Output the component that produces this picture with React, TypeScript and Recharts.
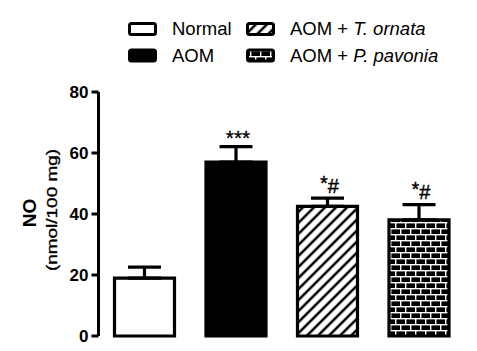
import { BarChart, Bar, XAxis, YAxis, ErrorBar, Cell, LabelList, Legend } from 'recharts';

const groups = ['Normal', 'AOM', 'AOM + T. ornata', 'AOM + P. pavonia'];
const noMean = [19.0, 57.0, 42.5, 38.1];
const noSem = [3.6, 5.1, 2.7, 5.0];
const marks = ['', '***', '*#', '*#'];
const yTicks = [0, 20, 40, 60, 80];

const fills = ['#fff', '#000', 'url(#hatch)', 'url(#brick)'];
const FONT = '"Liberation Sans", Arial, sans-serif';

const data = groups.map((g, i) => ({
  group: g,
  no: noMean[i],
  err: [0, noSem[i]],
  sig: marks[i],
}));

function Patterns() {
  return (
    <svg width={0} height={0} style={{ position: 'absolute' }}>
      <defs>
        <pattern id="hatch" patternUnits="userSpaceOnUse" width={7.8} height={7.8} patternTransform="rotate(45)">
          <rect width={7.8} height={7.8} fill="#fff" />
          <line x1={2} y1={0} x2={2} y2={7.8} stroke="#000" strokeWidth={2.5} />
        </pattern>
        <pattern id="brick" patternUnits="userSpaceOnUse" width={10} height={12}>
          <rect width={10} height={12} fill="#000" />
          <line x1={0} y1={0.7} x2={10} y2={0.7} stroke="#fff" strokeWidth={1.4} />
          <line x1={0} y1={6.7} x2={10} y2={6.7} stroke="#fff" strokeWidth={1.4} />
          <line x1={0.7} y1={0} x2={0.7} y2={6} stroke="#fff" strokeWidth={1.4} />
          <line x1={5.7} y1={6} x2={5.7} y2={12} stroke="#fff" strokeWidth={1.4} />
        </pattern>
      </defs>
    </svg>
  );
}

// legend laid out like the Prism one: 2 columns x 2 rows
const legendItems = [
  { name: 'Normal', col: 0, row: 0, fill: '#fff' },
  { name: 'AOM', col: 0, row: 1, fill: '#000' },
  { name: 'AOM + ', italic: 'T. ornata', col: 1, row: 0, fill: 'url(#hatch)' },
  { name: 'AOM + ', italic: 'P. pavonia', col: 1, row: 1, fill: 'url(#brick)' },
];

function renderLegend() {
  return (
    <svg width={340} height={52} style={{ display: 'block' }}>
      {legendItems.map((it) => {
        const sx = it.col === 0 ? 9.5 : 127.5;
        const sy = it.row === 0 ? 9.5 : 36;
        return (
          <g key={it.name + (it.italic || '')}>
            <rect x={sx} y={sy} width={26} height={11} rx={2} fill={it.fill} stroke="#000" strokeWidth={3} />
            <text x={sx + 42.5} y={sy + 11.5} fontFamily={FONT} fontSize={18.5} fill="#000">
              {it.name}
              {it.italic && <tspan fontStyle="italic">{it.italic}</tspan>}
            </text>
          </g>
        );
      })}
    </svg>
  );
}

function YLabel(props: any) {
  const vb = props.viewBox || { y: 92, height: 244 };
  const cy = vb.y + vb.height / 2;
  return (
    <g>
      <text x={36} y={cy - 1} transform={`rotate(-90, 36, ${cy - 1})`} textAnchor="middle" fontFamily={FONT} fontSize={19} fontWeight="bold" fill="#000">
        NO
      </text>
      <text x={57} y={cy - 4} transform={`rotate(-90, 57, ${cy - 4})`} textAnchor="middle" fontFamily={FONT} fontSize={15} fill="#000" stroke="#000" strokeWidth={0.35} textLength={122} lengthAdjust="spacingAndGlyphs">
        (nmol/100 mg)
      </text>
    </g>
  );
}

function renderSig(props: any) {
  const { x, y, width, height, index, value } = props;
  if (!value) return null;
  const mean = noMean[index];
  const capY = y - noSem[index] * (height / mean);
  const cx = x + width / 2 + 2;
  if (value === '***') {
    return (
      <text x={cx} y={capY - 1.5} textAnchor="middle" fontFamily={FONT} fontSize={21} fill="#000" stroke="#000" strokeWidth={0.3}>
        ***
      </text>
    );
  }
  return (
    <text x={cx} y={capY - 5.5} textAnchor="middle" fontFamily={FONT} fontSize={20} fill="#000" stroke="#000" strokeWidth={0.4}>
      <tspan dy={-3}>*</tspan>
      <tspan dy={3}>#</tspan>
    </text>
  );
}

export default function App() {
  return (
    <div style={{ position: 'absolute', left: 0, top: 0, width: 477, height: 351, background: '#fff' }}>
      <Patterns />
      <BarChart width={477} height={351} data={data} margin={{ top: 92, right: 12.5, bottom: 15, left: 38.5 }} barCategoryGap={0}>
        <Legend
          layout="horizontal"
          verticalAlign="middle"
          align="center"
          content={renderLegend}
          wrapperStyle={{ left: 120, top: 14, width: 340, height: 52 }}
        />
        <XAxis dataKey="group" tick={false} tickLine={false} height={0} axisLine={{ stroke: '#000', strokeWidth: 3 }} />
        <YAxis
          width={60}
          domain={[0, 80]}
          ticks={yTicks}
          interval={0}
          tickSize={7}
          tickMargin={3}
          axisLine={{ stroke: '#000', strokeWidth: 3 }}
          tickLine={{ stroke: '#000', strokeWidth: 3 }}
          tick={{ fill: '#000', fontSize: 17, fontWeight: 'bold', fontFamily: FONT }}
          label={<YLabel />}
        />
        <Bar dataKey="no" barSize={60} stroke="#000" strokeWidth={3.2} isAnimationActive={false}>
          {data.map((d, i) => (
            <Cell key={d.group} fill={fills[i]} />
          ))}
          <ErrorBar dataKey="err" direction="y" width={16.5} stroke="#000" strokeWidth={3.2} isAnimationActive={false} />
          <LabelList dataKey="sig" content={renderSig} />
        </Bar>
      </BarChart>
    </div>
  );
}
